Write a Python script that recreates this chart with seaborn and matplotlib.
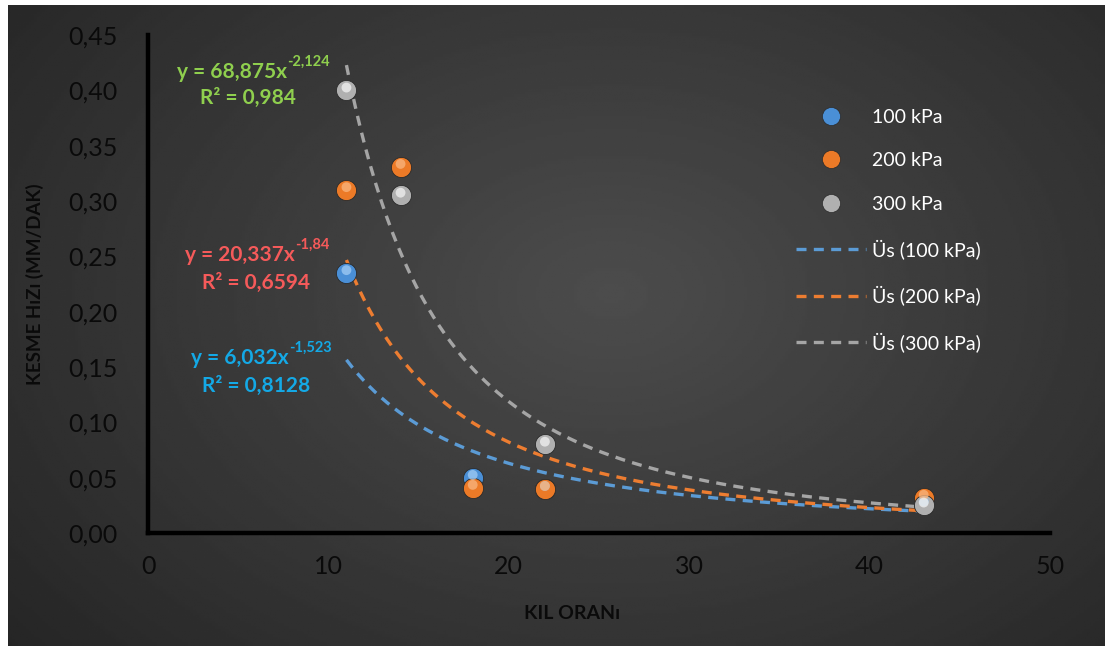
import numpy as np
import pandas as pd
import seaborn as sns
import matplotlib.pyplot as plt
from matplotlib.lines import Line2D
from matplotlib.ticker import FuncFormatter, MultipleLocator

sns.set_theme(style="white")
plt.rcParams['font.family'] = ['Lato', 'DejaVu Sans']

# data
kil_100 = [11, 18, 22, 43]
hiz_100 = [0.235, 0.050, 0.040, 0.026]
kil_200 = [11, 14, 18, 22, 43]
hiz_200 = [0.310, 0.331, 0.041, 0.040, 0.032]
kil_300 = [11, 14, 22, 43]
hiz_300 = [0.400, 0.305, 0.080, 0.025]

series = ["100 kPa", "200 kPa", "300 kPa"]
colors = ["#4a8fd6", "#ec7a27", "#b0b0b0"]
light = ["#9cc8f2", "#f8b27a", "#eeeeee"]
trend_colors = ["#5b9bd5", "#ed7d31", "#a5a5a5"]
eq_colors = ["#14a9e6", "#f55a5a", "#8fcf4e"]

# power trendline coefficients shown on the chart (y = a * x^b)
coef_a = [6.032, 20.337, 68.875]
coef_b = [-1.523, -1.84, -2.124]
r2 = ["0,8128", "0,6594", "0,984"]
eq_a_txt = ["6,032", "20,337", "68,875"]
eq_b_txt = ["-1,523", "-1,84", "-2,124"]
trend_x = [11, 43]

pts = pd.DataFrame({
    "kil": kil_100 + kil_200 + kil_300,
    "hiz": hiz_100 + hiz_200 + hiz_300,
    "seri": ["100 kPa"] * len(kil_100) + ["200 kPa"] * len(kil_200) + ["300 kPa"] * len(kil_300),
})

fig = plt.figure(figsize=(11.05, 6.46), dpi=100)
fig.patch.set_facecolor("white")

# dark radial background like the Excel chart style
bg = fig.add_axes([8 / 1105, 0, 1097 / 1105, 641 / 646])
gx, gy = np.meshgrid(np.linspace(0, 1, 400), np.linspace(0, 1, 240))
d = np.sqrt(((gx - 0.55) / 0.75) ** 2 + ((gy - 0.45) / 0.9) ** 2)
shade = np.clip(0.30 - 0.16 * d, 0.145, 0.30)
bg.imshow(shade, cmap="gray", vmin=0, vmax=1, aspect="auto", extent=[0, 1, 0, 1])
bg.axis("off")

ax = fig.add_axes([148 / 1105, 113 / 646, 902 / 1105, 498 / 646])
ax.patch.set_alpha(0)

for i, s in enumerate(series):
    xs = np.linspace(trend_x[0], trend_x[1], 200)
    tr = pd.DataFrame({"kil": xs, "hiz": coef_a[i] * xs ** coef_b[i]})
    sns.lineplot(data=tr, x="kil", y="hiz", ax=ax, color=trend_colors[i],
                 lw=2.4, dashes=False, linestyle=(0, (3, 2.2)), zorder=2)

for i, s in enumerate(series):
    sub = pts[pts["seri"] == s]
    sns.scatterplot(data=sub, x="kil", y="hiz", ax=ax, color=colors[i], s=210,
                    edgecolor="#2a2a2a", linewidth=0.6, zorder=3, legend=False)
    sub2 = sub.assign(hiz=sub["hiz"] + 0.0025)
    sns.scatterplot(data=sub2, x="kil", y="hiz", ax=ax, color=light[i], s=50,
                    edgecolor="none", alpha=0.8, zorder=4, legend=False)

ax.set_xlim(0, 50)
ax.set_ylim(0, 0.45)
ax.xaxis.set_major_locator(MultipleLocator(10))
ax.yaxis.set_major_locator(MultipleLocator(0.05))
ax.yaxis.set_major_formatter(FuncFormatter(lambda v, p: f"{v:.2f}".replace(".", ",")))
ax.tick_params(axis="both", length=0, labelsize=18, labelcolor="#0a0a0a")
ax.tick_params(axis="x", pad=16)
ax.tick_params(axis="y", pad=22)
for sp in ["top", "right"]:
    ax.spines[sp].set_visible(False)
for sp in ["left", "bottom"]:
    ax.spines[sp].set_color("black")
    ax.spines[sp].set_linewidth(3.2)

ax.set_xlabel("KIL ORANı", fontsize=14, fontweight="bold", color="#0a0a0a")
ax.xaxis.set_label_coords(0.47, -0.145)
ax.set_ylabel("KESME HıZı (MM/DAK)", fontsize=13.5, fontweight="bold", color="#0a0a0a")
ax.yaxis.set_label_coords(-0.115, 0.5)

eq_pos = [(6.0, 0.158, 0.133), (6.0, 0.251, 0.226), (5.55, 0.4166, 0.393)]
fig.canvas.draw()
for i in range(3):
    x0, y1, y2 = eq_pos[i]
    t = ax.text(x0 - 0.9, y1, f"y = {eq_a_txt[i]}x", color=eq_colors[i], fontsize=15,
                fontweight="bold", ha="center", va="center")
    ax.text(x0, y2, f"R² = {r2[i]}", color=eq_colors[i], fontsize=15,
            fontweight="bold", ha="center", va="center")
    bb = t.get_window_extent(renderer=fig.canvas.get_renderer())
    fig.text(bb.x1 / 100 / 11.05 + 0.0005, (bb.y1 - 7) / 100 / 6.46, eq_b_txt[i],
             color=eq_colors[i], fontsize=10.5, fontweight="bold", ha="left", va="bottom")

handles = [Line2D([], [], ls="none", marker="o", ms=13, mfc=c, mec="#2a2a2a", mew=0.5) for c in colors]
handles += [Line2D([], [], color=c, lw=2.4, ls=(0, (3, 2.2))) for c in trend_colors]
labels = series + [f"Üs ({s})" for s in series]
leg = ax.legend(handles, labels, loc="upper left", bbox_to_anchor=(0.718, 0.852), frameon=False,
                fontsize=14, labelcolor="white", handlelength=3.6, labelspacing=1.36,
                handletextpad=0.35, borderaxespad=0, borderpad=0)

fig.savefig("out.png", dpi=100)
